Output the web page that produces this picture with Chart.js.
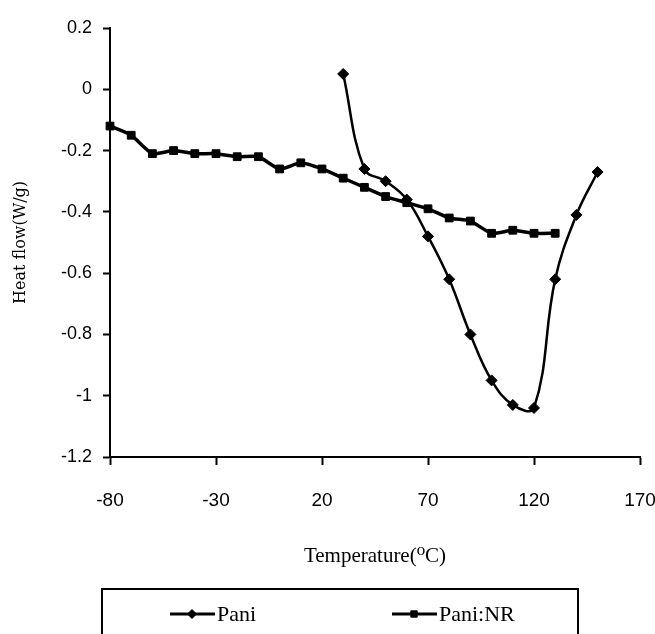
<!DOCTYPE html>
<html>
<head>
<meta charset="utf-8">
<script src="https://cdn.jsdelivr.net/npm/chart.js@4.4.0/dist/chart.umd.min.js"></script>
<style>
  html, body { margin: 0; padding: 0; background: #fff; }
</style>
</head>
<body>
<canvas id="myChart" width="655" height="634"></canvas>
<script>
// Pani (DSC curve)
const paniTemp = [30, 40, 50, 60, 70, 80, 90, 100, 110, 120, 130, 140, 150];
const paniFlow = [0.05, -0.26, -0.30, -0.36, -0.48, -0.62, -0.80, -0.95, -1.03, -1.04, -0.62, -0.41, -0.27];
// Pani:NR blend
const nrTemp = [-80, -70, -60, -50, -40, -30, -20, -10, 0, 10, 20, 30, 40, 50, 60, 70, 80, 90, 100, 110, 120, 130];
const nrFlow = [-0.12, -0.15, -0.21, -0.20, -0.21, -0.21, -0.22, -0.22, -0.26, -0.24, -0.26, -0.29, -0.32, -0.35, -0.37, -0.39, -0.42, -0.43, -0.47, -0.46, -0.47, -0.47];
// axis ticks
const xTicks = [-80, -30, 20, 70, 120, 170];
const yTicks = [0.2, 0, -0.2, -0.4, -0.6, -0.8, -1, -1.2];

const toPoints = (xs, ys) => xs.map((x, i) => ({ x: x, y: ys[i] }));

const sans = "'Liberation Sans', Arial, sans-serif";
const serif = "'Liberation Serif', 'DejaVu Serif', serif";

// boxed legend under the chart, line + marker + label like the original
const boxLegend = {
  id: "boxLegend",
  afterDraw(chart) {
    const ctx = chart.ctx;
    const starts = [170, 392];
    const y = 614;
    ctx.save();
    ctx.strokeStyle = "#000";
    ctx.fillStyle = "#000";
    ctx.lineWidth = 2;
    ctx.strokeRect(102, 589, 476, 60);
    chart.data.datasets.forEach((ds, i) => {
      const x0 = starts[i];
      ctx.lineWidth = 3;
      ctx.beginPath();
      ctx.moveTo(x0, y);
      ctx.lineTo(x0 + 45, y);
      ctx.stroke();
      ctx.lineWidth = 1;
      Chart.helpers.drawPoint(ctx, { pointStyle: ds.pointStyle, radius: ds.pointRadius - 1, borderWidth: 1, rotation: 0 }, x0 + 22, y);
      ctx.font = "22px " + serif;
      ctx.textBaseline = "middle";
      ctx.textAlign = "left";
      ctx.fillText(ds.label, x0 + 47, y + 1);
    });
    ctx.restore();
  }
};

const ctx = document.getElementById("myChart").getContext("2d");

new Chart(ctx, {
  type: "scatter",
  data: {
    datasets: [
      {
        label: "Pani",
        data: toPoints(paniTemp, paniFlow),
        showLine: true,
        tension: 0.4,
        borderColor: "#000",
        backgroundColor: "#000",
        borderWidth: 2.5,
        pointStyle: "rectRot",
        pointRadius: 5.5,
        pointBorderWidth: 1,
        clip: false
      },
      {
        label: "Pani:NR",
        data: toPoints(nrTemp, nrFlow),
        showLine: true,
        tension: 0.2,
        borderColor: "#000",
        backgroundColor: "#000",
        borderWidth: 3.5,
        pointStyle: "rect",
        pointRadius: 5.5,
        pointBorderWidth: 1,
        clip: false
      }
    ]
  },
  options: {
    responsive: false,
    animation: false,
    layout: { padding: { top: 28, right: 15, bottom: 65, left: 0 } },
    plugins: {
      legend: { display: false },
      tooltip: { enabled: false }
    },
    scales: {
      x: {
        type: "linear",
        min: -80,
        max: 170,
        afterBuildTicks: (scale) => { scale.ticks = xTicks.map(v => ({ value: v })); },
        afterFit: (scale) => {
          scale.height = 112;
          scale.paddingLeft = 0;
          scale.paddingRight = 0;
        },
        grid: { display: true, drawOnChartArea: false, tickLength: 8, tickColor: "#000", tickWidth: 2 },
        border: { display: true, color: "#000", width: 2 },
        ticks: { color: "#000", font: { family: sans, size: 19 }, padding: 24, maxRotation: 0 },
        title: {
          display: true,
          text: "Temperature(\u2070C)",
          color: "#000",
          font: { family: serif, size: 21 },
          padding: { top: 0, bottom: 0 }
        }
      },
      y: {
        type: "linear",
        min: -1.2,
        max: 0.2,
        afterBuildTicks: (scale) => { scale.ticks = yTicks.map(v => ({ value: v })); },
        afterFit: (scale) => {
          scale.width = 110;
          scale.paddingTop = 0;
          scale.paddingBottom = 0;
        },
        grid: { display: true, drawOnChartArea: false, tickLength: 7, tickColor: "#000", tickWidth: 2 },
        border: { display: true, color: "#000", width: 2 },
        ticks: {
          color: "#000",
          font: { family: sans, size: 18 },
          padding: 11,
          callback: (v) => String(Math.round(v * 10) / 10)
        },
        title: {
          display: true,
          text: "Heat flow(W/g)",
          color: "#000",
          font: { family: "'DejaVu Serif', serif", size: 16 },
          padding: { top: 11, bottom: 0 }
        }
      }
    }
  },
  plugins: [boxLegend]
});
</script>
</body>
</html>
